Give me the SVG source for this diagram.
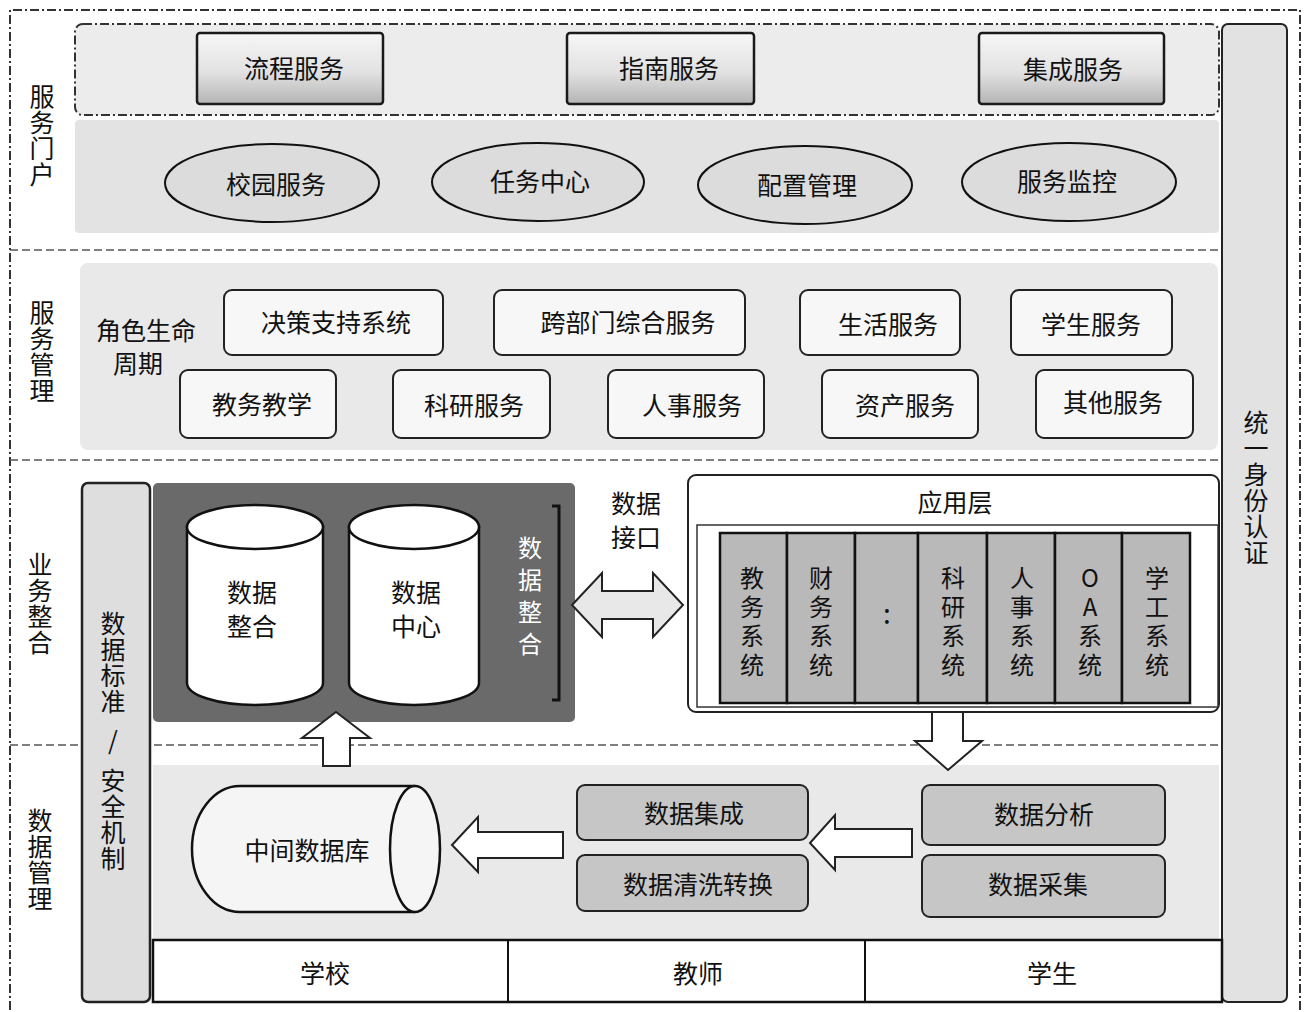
<svg xmlns="http://www.w3.org/2000/svg" width="1305" height="1012" viewBox="0 0 1305 1012">
<defs>
<linearGradient id="gbox" x1="0" y1="0" x2="0" y2="1">
<stop offset="0" stop-color="#f6f6f6"/><stop offset="0.55" stop-color="#e2e2e2"/><stop offset="1" stop-color="#b4b4b4"/>
</linearGradient>
<style>
text{font-family:"Noto Sans CJK SC","Noto Sans",sans-serif;fill:#111;}
.t{font-size:25px;text-anchor:middle;dominant-baseline:central;}
.vt{font-size:25px;writing-mode:vertical-rl;text-orientation:upright;letter-spacing:1px;}
.vc{font-size:24px;writing-mode:vertical-rl;text-orientation:upright;letter-spacing:5px;}
.dd{fill:none;stroke:#333;stroke-width:2;stroke-dasharray:9 3 2 3;}
.dash{fill:none;stroke:#555;stroke-width:1.5;stroke-dasharray:8 4;}
.panel{fill:#e9e9e9;}
.gb{fill:url(#gbox);stroke:#1a1a1a;stroke-width:2.5;}
.ell{fill:#dcdcdc;stroke:#111;stroke-width:2;}
.wb{fill:#f7f7f7;stroke:#222;stroke-width:2;}
.gray{fill:#c6c6c6;stroke:#222;stroke-width:2;}
.col{fill:#b9b9b9;stroke:#111;stroke-width:2.5;}
.arr{fill:#fff;stroke:#222;stroke-width:2;}
.cyl{fill:#fff;stroke:#111;stroke-width:2.5;}
</style>
</defs>
<rect width="1305" height="1012" fill="#fff"/>
<!-- outer frame -->
<path class="dd" d="M10,1010 L10,10 L1300,10 L1300,1010"/>
<!-- section dividers -->
<line class="dash" x1="10" y1="250" x2="1222" y2="250"/>
<line class="dash" x1="10" y1="460" x2="1222" y2="460"/>
<line class="dash" x1="10" y1="745" x2="1222" y2="745"/>

<!-- section labels -->
<g id="lbl-portal"><text class="vt" x="42" y="84">服务门户</text></g>
<g id="lbl-mgmt"><text class="vt" x="42" y="300">服务管理</text></g>
<g id="lbl-biz"><text class="vt" x="40" y="552">业务整合</text></g>
<g id="lbl-data"><text class="vt" x="40" y="808">数据管理</text></g>

<!-- portal -->
<g id="portal-top">
<rect x="75" y="24" width="1144" height="91" rx="8" class="dd" style="fill:#ececec"/>
</g>
<rect x="75" y="120" width="1144" height="113" rx="4" fill="#e3e3e3"/>
<g id="n-liucheng"><rect class="gb" x="197" y="33" width="186" height="71" rx="3"/><text class="t" x="294" y="67">流程服务</text></g>
<g id="n-zhinan"><rect class="gb" x="567" y="33" width="187" height="71" rx="3"/><text class="t" x="669" y="67">指南服务</text></g>
<g id="n-jicheng"><rect class="gb" x="979" y="33" width="185" height="71" rx="3"/><text class="t" x="1073" y="68">集成服务</text></g>
<g id="n-xiaoyuan"><ellipse class="ell" cx="272" cy="183" rx="107" ry="39"/><text class="t" x="276" y="183">校园服务</text></g>
<g id="n-renwu"><ellipse class="ell" cx="538" cy="182" rx="106" ry="39"/><text class="t" x="540" y="180">任务中心</text></g>
<g id="n-peizhi"><ellipse class="ell" cx="805" cy="185" rx="107" ry="39"/><text class="t" x="807" y="184">配置管理</text></g>
<g id="n-jiankong"><ellipse class="ell" cx="1069" cy="182" rx="107" ry="39"/><text class="t" x="1067" y="180">服务监控</text></g>

<!-- service management -->
<rect x="80" y="263" width="1138" height="187" rx="8" class="panel"/>
<g id="n-role"><text class="t" x="146" y="329">角色生命</text><text class="t" x="138" y="362">周期</text></g>
<g id="n-juece"><rect class="wb" x="224" y="290" width="219" height="65" rx="8"/><text class="t" x="336" y="321">决策支持系统</text></g>
<g id="n-kuabumen"><rect class="wb" x="494" y="290" width="251" height="65" rx="8"/><text class="t" x="628" y="321">跨部门综合服务</text></g>
<g id="n-shenghuo"><rect class="wb" x="800" y="290" width="160" height="65" rx="8"/><text class="t" x="888" y="323">生活服务</text></g>
<g id="n-xuesheng"><rect class="wb" x="1011" y="290" width="161" height="65" rx="8"/><text class="t" x="1091" y="323">学生服务</text></g>
<g id="n-jiaowu"><rect class="wb" x="180" y="370" width="156" height="68" rx="8"/><text class="t" x="262" y="403">教务教学</text></g>
<g id="n-keyan"><rect class="wb" x="393" y="370" width="157" height="68" rx="8"/><text class="t" x="474" y="404">科研服务</text></g>
<g id="n-renshi"><rect class="wb" x="608" y="370" width="156" height="68" rx="8"/><text class="t" x="692" y="404">人事服务</text></g>
<g id="n-zichan"><rect class="wb" x="822" y="370" width="156" height="68" rx="8"/><text class="t" x="905" y="404">资产服务</text></g>
<g id="n-qita"><rect class="wb" x="1036" y="370" width="157" height="68" rx="8"/><text class="t" x="1113" y="401">其他服务</text></g>

<!-- right bar -->
<g id="n-auth"><rect x="1222" y="24" width="65" height="978" rx="6" fill="#e2e2e2" stroke="#222" stroke-width="2"/>
<text class="vt" x="1256" y="410">统一身份认证</text></g>

<!-- left bar -->
<g id="n-standard"><rect x="82" y="483" width="68" height="519" rx="6" fill="#dedede" stroke="#222" stroke-width="2.5"/>
<text class="vt" x="113" y="611">数据标准</text>
<text class="vt" x="113" y="728">/</text>
<text class="vt" x="113" y="768">安全机制</text></g>

<!-- data integration dark panel -->
<g id="n-integration">
<rect x="153" y="483" width="422" height="239" rx="5" fill="#6a6a6a"/>
<path class="cyl" d="M187,527 L187,683 A68,22 0 0 0 323,683 L323,527 Z"/>
<ellipse class="cyl" cx="255" cy="527" rx="68" ry="22"/>
<text class="t" x="252" y="591">数据</text><text class="t" x="252" y="625">整合</text>
<path class="cyl" d="M349,527 L349,683 A65,22 0 0 0 479,683 L479,527 Z"/>
<ellipse class="cyl" cx="414" cy="527" rx="65" ry="22"/>
<text class="t" x="416" y="591">数据</text><text class="t" x="416" y="625">中心</text>
<path d="M552,506 L559,506 L559,700 L552,700" fill="none" stroke="#111" stroke-width="3"/>
<text class="vc" x="530" y="536" style="fill:#fff;letter-spacing:8px">数据整合</text>
</g>
<g id="n-iface"><text class="t" x="636" y="502">数据</text><text class="t" x="636" y="536">接口</text></g>

<!-- application layer -->
<g id="n-app">
<rect x="688" y="475" width="531" height="237" rx="8" fill="#fff" stroke="#222" stroke-width="2"/>
<text class="t" x="955" y="501">应用层</text>
<rect x="697" y="525" width="521" height="182" fill="#fff" stroke="#333" stroke-width="1.5"/>
<rect class="col" x="720" y="533" width="67" height="170"/>
<rect class="col" x="787" y="533" width="68" height="170"/>
<rect class="col" x="855" y="533" width="63" height="170"/>
<rect class="col" x="918" y="533" width="69" height="170"/>
<rect class="col" x="987" y="533" width="68" height="170"/>
<rect class="col" x="1055" y="533" width="67" height="170"/>
<rect class="col" x="1122" y="533" width="68" height="170"/>
<text class="vc" x="752" y="566">教务系统</text>
<text class="vc" x="821" y="566">财务系统</text>
<text class="t" x="887" y="612" style="font-size:28px">:</text>
<text class="vc" x="953" y="566">科研系统</text>
<text class="vc" x="1022" y="566">人事系统</text>
<text class="vc" x="1090" y="566">OA系统</text>
<text class="vc" x="1157" y="566">学工系统</text>
</g>

<!-- data management panel -->
<rect x="153" y="765" width="1066" height="175" class="panel"/>
<g id="n-middb">
<path d="M415,786 L240,786 A48,63 0 0 0 240,912 L415,912" fill="#f5f5f5" stroke="#111" stroke-width="2.5"/>
<ellipse cx="415" cy="849" rx="25" ry="63" fill="#f5f5f5" stroke="#111" stroke-width="2.5"/>
<text class="t" x="307" y="849">中间数据库</text>
</g>
<g id="n-jicheng2"><rect class="gray" x="577" y="785" width="231" height="55" rx="8"/><text class="t" x="694" y="812">数据集成</text></g>
<g id="n-qingxi"><rect class="gray" x="577" y="855" width="231" height="56" rx="8"/><text class="t" x="698" y="883">数据清洗转换</text></g>
<g id="n-fenxi"><rect class="gray" x="922" y="785" width="243" height="60" rx="8"/><text class="t" x="1044" y="813">数据分析</text></g>
<g id="n-caiji"><rect class="gray" x="922" y="855" width="243" height="62" rx="8"/><text class="t" x="1038" y="883">数据采集</text></g>

<!-- bottom row -->
<g id="n-users">
<rect x="153" y="940" width="1069" height="62" fill="#fff" stroke="#111" stroke-width="2.5"/>
<line x1="508" y1="940" x2="508" y2="1002" stroke="#111" stroke-width="2"/>
<line x1="865" y1="940" x2="865" y2="1002" stroke="#111" stroke-width="2"/>
<text class="t" x="325" y="972">学校</text>
<text class="t" x="698" y="972">教师</text>
<text class="t" x="1052" y="972">学生</text>
</g>

<!-- connectors -->
<g id="connectors">
<polygon class="arr" style="fill:#e8e8e8" points="572,605 602,573 602,591 653,591 653,573 683,605 653,637 653,619 602,619 602,637"/>
<polygon class="arr" points="932,712 963,712 963,741 982,741 948,770 915,741 932,741"/>
<polygon class="arr" points="336,712 370,738 350,738 350,766 323,766 323,738 302,738"/>
<polygon class="arr" points="452,845 478,817 478,832 563,832 563,858 478,858 478,872"/>
<polygon class="arr" points="810,843 835,815 835,829 912,829 912,857 835,857 835,870"/>
</g>
</svg>
